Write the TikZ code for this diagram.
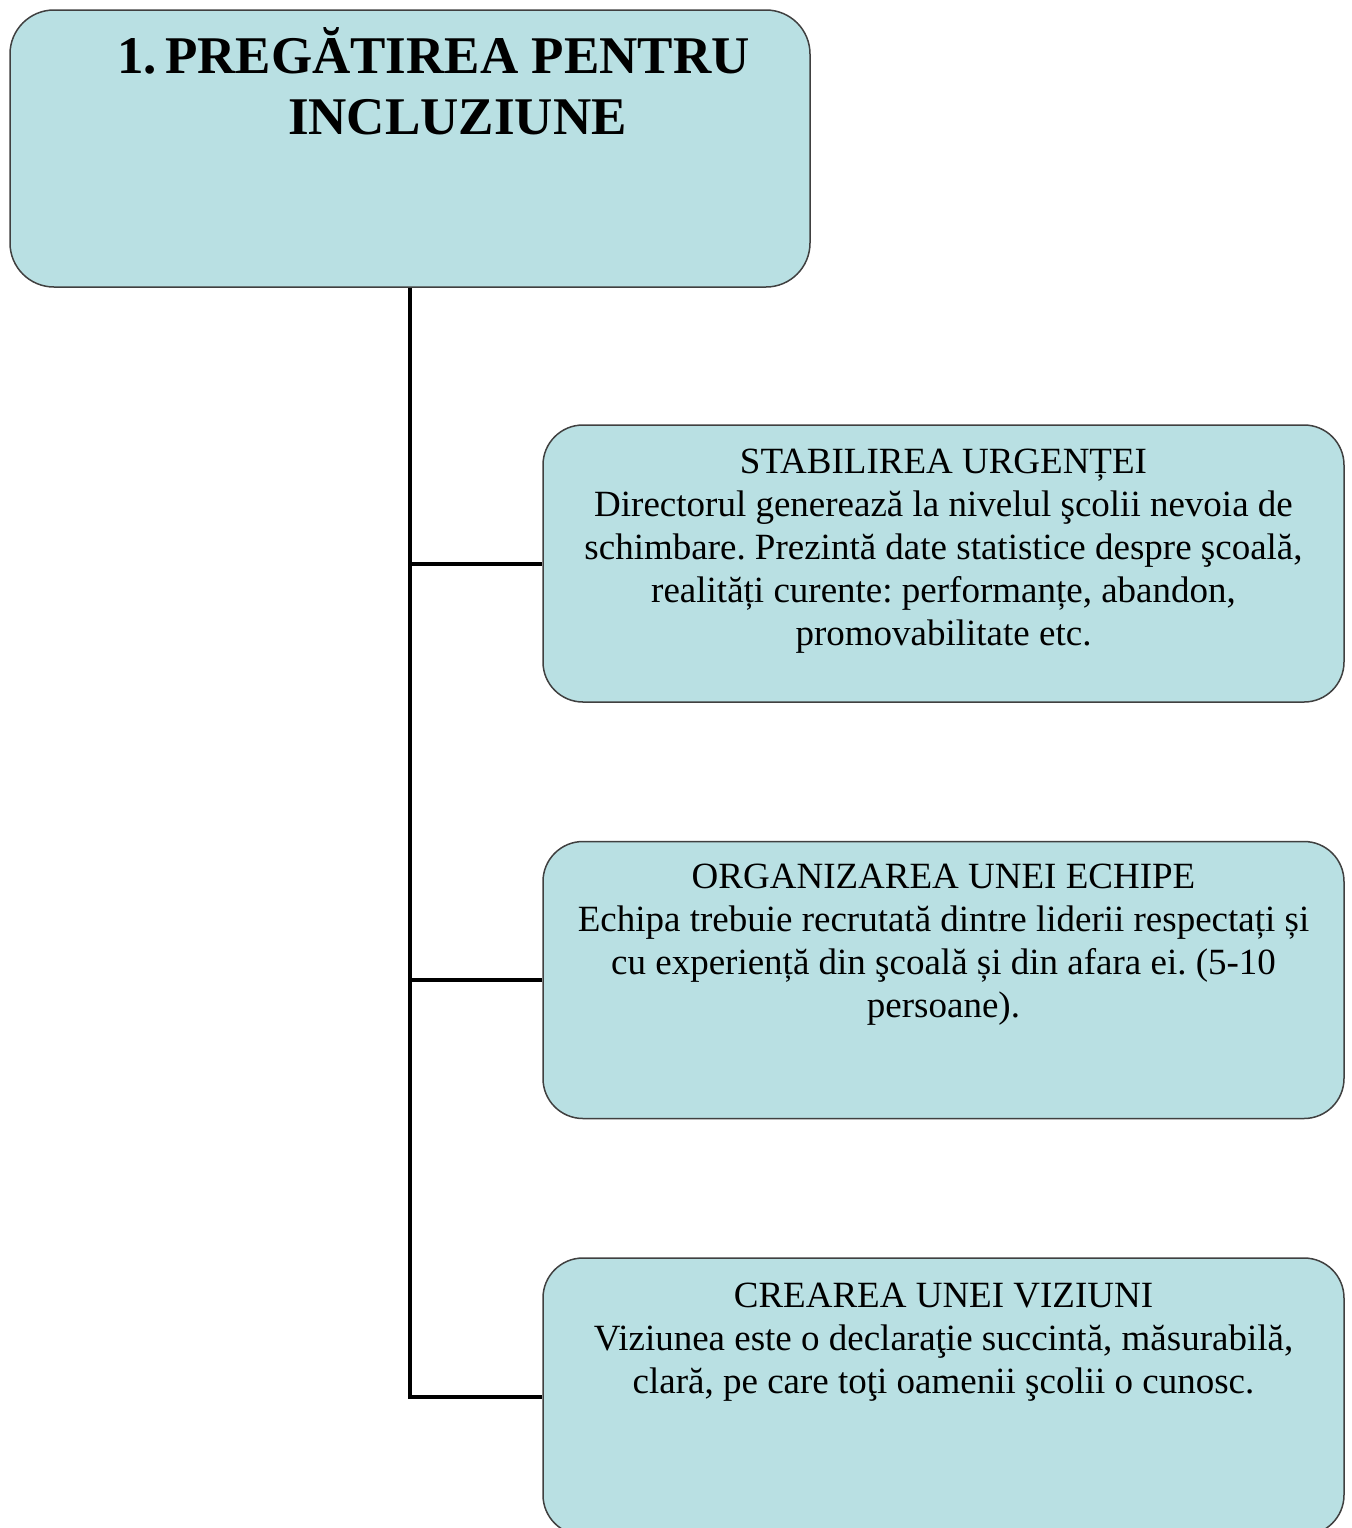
\documentclass[tikz,border=0pt]{standalone}
\usepackage{fontspec}
\setmainfont{Liberation Serif}
\usetikzlibrary{positioning}
\frenchspacing
\definecolor{boxfill}{RGB}{185,224,227}
\tikzset{
  box/.style={draw=black!75, line width=0.75pt, fill=boxfill, rounded corners=20pt,
    inner sep=0pt, minimum width=400.5pt, minimum height=138.5pt},
  boxtext/.style={align=center, inner sep=0pt, font=\fontsize{18.5}{21.5}\selectfont},
  link/.style={line width=2pt}
}
\begin{document}
\begin{tikzpicture}[x=0.5pt,y=-0.5pt]
\useasboundingbox (0,0) rectangle (1352,1528);
% title
\path (410,148.5) node[box, minimum width=400pt, rounded corners=22pt] (title) {};
\path (433.5,73) node[anchor=base, inner sep=0pt, font=\fontsize{26.5}{30.5}\selectfont\bfseries] (titletext)
  {1.\hspace{4pt}\begin{tabular}[t]{@{}c@{}}PREGĂTIREA PENTRU\\INCLUZIUNE\end{tabular}};

% boxes
\path (943.5,563.5) node[box] (urgenta) {};
\path (943.5,980) node[box] (echipa) {};
\path (943.5,1396.5) node[box] (viziune) {};

\node[boxtext, below=12pt of urgenta.north] (urgentatext)
  {STABILIREA URGENȚEI\\Directorul generează la nivelul şcolii nevoia de\\schimbare. Prezintă date statistice despre şcoală,\\realități curente: performanțe, abandon,\\promovabilitate etc.};
\node[boxtext, below=11.5pt of echipa.north] (echipatext)
  {ORGANIZAREA UNEI ECHIPE\\Echipa trebuie recrutată dintre liderii respectați și\\cu experiență din şcoală și din afara ei. (5-10\\persoane).};
\node[boxtext, below=12.5pt of viziune.north] (viziunetext)
  {CREAREA UNEI VIZIUNI\\Viziunea este o declaraţie succintă, măsurabilă,\\clară, pe care toţi oamenii şcolii o cunosc.};

% draw
\draw[link] (title.south) |- (viziune.west);
\draw[link] (title.south) |- (urgenta.west);
\draw[link] (title.south) |- (echipa.west);
\end{tikzpicture}
\end{document}
